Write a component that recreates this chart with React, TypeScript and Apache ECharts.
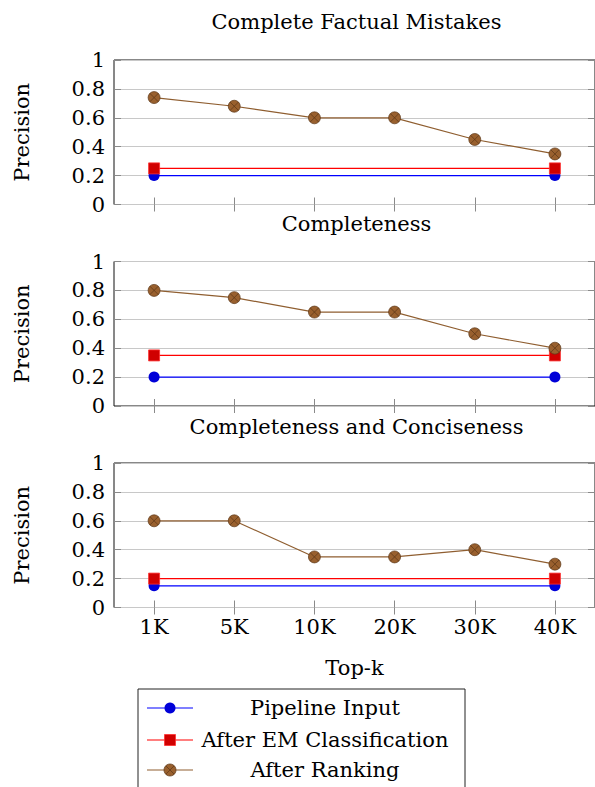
import React, { useEffect, useRef } from "react";
import * as echarts from "echarts";

const categories = ["1K", "5K", "10K", "20K", "30K", "40K"];
const panelTitles = ["Complete Factual Mistakes", "Completeness", "Completeness and Conciseness"];
const seriesNames = ["Pipeline Input", "After EM Classification", "After Ranking"];
const pipelineInput = [
  [0.2, null, null, null, null, 0.2],
  [0.2, null, null, null, null, 0.2],
  [0.15, null, null, null, null, 0.15],
];
const afterEM = [
  [0.25, null, null, null, null, 0.25],
  [0.35, null, null, null, null, 0.35],
  [0.2, null, null, null, null, 0.2],
];
const afterRanking = [
  [0.74, 0.68, 0.6, 0.6, 0.45, 0.35],
  [0.8, 0.75, 0.65, 0.65, 0.5, 0.4],
  [0.6, 0.6, 0.35, 0.35, 0.4, 0.3],
];
const yTicks = [0, 0.2, 0.4, 0.6, 0.8, 1];
const xAxisName = "Top-k";
const yAxisName = "Precision";

const FONT = "DejaVu Serif";
const FS = 21;
const BLUE_LINE = "#0000ff";
const BLUE_MARK = "#0000d8";
const RED_LINE = "#ff0000";
const RED_MARK = "#d00000";
const BROWN_LINE = "#8f5e30";
const BROWN_MARK = "#99602e";
const BROWN_EDGE = "#5a3515";
const BROWN_SYMBOL =
  "path://M0,-10 A10,10 0 1,1 0,10 A10,10 0 1,1 0,-10 Z M-7.07,-7.07 L7.07,7.07 M7.07,-7.07 L-7.07,7.07";

const gridTops = [60, 261.5, 463];
const titleYs = [22, 224, 427];
const gridH = 144.5;
const gridLeft = 114;
const gridW = 485;

export default function App() {
  const ref = useRef<HTMLDivElement>(null);
  useEffect(() => {
    if (!ref.current) return;
    const chart = echarts.init(ref.current, null, { renderer: "svg" });
    const grids: any[] = [];
    const xAxes: any[] = [];
    const yAxes: any[] = [];
    const series: any[] = [];
    const graphics: any[] = [];
    const tickStyle = { color: "#8a8a8a", width: 1 };
    for (let i = 0; i < 3; i++) {
      grids.push({
        left: gridLeft,
        top: gridTops[i],
        width: gridW,
        height: gridH,
        show: true,
        borderColor: "#111",
        borderWidth: 1,
        backgroundColor: "transparent",
      });
      const isLast = i === 2;
      xAxes.push({
        type: "category",
        gridIndex: i,
        data: categories,
        position: "bottom",
        boundaryGap: true,
        axisLine: { show: false },
        axisTick: { show: true, inside: true, alignWithLabel: true, length: 7, lineStyle: tickStyle },
        axisLabel: { show: isLast, color: "#000", fontFamily: FONT, fontSize: FS, margin: 9 },
        splitLine: { show: false },
        name: isLast ? xAxisName : "",
        nameLocation: "middle",
        nameGap: 50,
        nameTextStyle: { color: "#000", fontFamily: FONT, fontSize: FS },
      });
      xAxes.push({
        type: "category",
        gridIndex: i,
        data: categories,
        position: "top",
        boundaryGap: true,
        axisLine: { show: false },
        axisTick: { show: true, inside: true, alignWithLabel: true, length: 7, lineStyle: tickStyle },
        axisLabel: { show: false },
        splitLine: { show: false },
      });
      yAxes.push({
        type: "value",
        gridIndex: i,
        min: yTicks[0],
        max: yTicks[yTicks.length - 1],
        interval: 0.2,
        position: "left",
        axisLine: { show: false },
        axisTick: { show: true, inside: true, length: 7, lineStyle: tickStyle },
        axisLabel: { color: "#000", fontFamily: FONT, fontSize: FS, margin: 9 },
        splitLine: { show: true, lineStyle: { color: "#c8c8c8", width: 1 } },
        name: yAxisName,
        nameLocation: "middle",
        nameRotate: 90,
        nameGap: 82,
        nameTextStyle: { color: "#000", fontFamily: FONT, fontSize: FS },
      });
      yAxes.push({
        type: "value",
        gridIndex: i,
        min: yTicks[0],
        max: yTicks[yTicks.length - 1],
        interval: 0.2,
        position: "right",
        axisLine: { show: false },
        axisTick: { show: true, inside: true, length: 7, lineStyle: tickStyle },
        axisLabel: { show: false },
        splitLine: { show: false },
      });
      series.push({
        name: seriesNames[0],
        type: "line",
        xAxisIndex: 2 * i,
        yAxisIndex: 2 * i,
        data: pipelineInput[i],
        connectNulls: true,
        symbol: "circle",
        symbolSize: 11,
        itemStyle: { color: BLUE_MARK, borderColor: BLUE_MARK, borderWidth: 0 },
        lineStyle: { color: BLUE_LINE, width: 1.2 },
        z: 2,
      });
      series.push({
        name: seriesNames[1],
        type: "line",
        xAxisIndex: 2 * i,
        yAxisIndex: 2 * i,
        data: afterEM[i],
        connectNulls: true,
        symbol: "rect",
        symbolSize: 11,
        itemStyle: { color: RED_MARK, borderColor: "#ff3030", borderWidth: 0.8 },
        lineStyle: { color: RED_LINE, width: 1.2 },
        z: 3,
      });
      series.push({
        name: seriesNames[2],
        type: "line",
        xAxisIndex: 2 * i,
        yAxisIndex: 2 * i,
        data: afterRanking[i],
        symbol: BROWN_SYMBOL,
        symbolSize: 12,
        itemStyle: { color: BROWN_MARK, borderColor: BROWN_EDGE, borderWidth: 0.7 },
        lineStyle: { color: BROWN_LINE, width: 1.2 },
        z: 4,
      });
      graphics.push({
        type: "text",
        x: gridLeft + gridW / 2,
        y: titleYs[i],
        style: {
          text: panelTitles[i],
          font: `${FS}px "${FONT}"`,
          fill: "#000",
          textAlign: "center",
          textVerticalAlign: "middle",
        },
      });
    }
    // legend
    const lx = 138, ly = 689, lw = 327;
    graphics.push({
      type: "rect",
      shape: { x: lx, y: ly, width: lw, height: 120 },
      style: { fill: "#fff", stroke: "#222", lineWidth: 1 },
      z: 10,
    });
    const rows = [708, 740, 770];
    const lineCols = [BLUE_LINE, RED_LINE, BROWN_LINE];
    rows.forEach((ry, k) => {
      graphics.push({
        type: "line",
        shape: { x1: 147, y1: ry, x2: 193, y2: ry },
        style: { stroke: lineCols[k], lineWidth: 1.2 },
        z: 11,
      });
      if (k === 0) {
        graphics.push({ type: "circle", shape: { cx: 170, cy: ry, r: 5.5 }, style: { fill: BLUE_MARK }, z: 12 });
      } else if (k === 1) {
        graphics.push({
          type: "rect",
          shape: { x: 164.5, y: ry - 5.5, width: 11, height: 11 },
          style: { fill: RED_MARK, stroke: "#ff3030", lineWidth: 0.8 },
          z: 12,
        });
      } else {
        graphics.push({
          type: "circle",
          shape: { cx: 170, cy: ry, r: 6 },
          style: { fill: BROWN_MARK, stroke: BROWN_EDGE, lineWidth: 0.7 },
          z: 12,
        });
        graphics.push({ type: "line", shape: { x1: 165.8, y1: ry - 4.2, x2: 174.2, y2: ry + 4.2 }, style: { stroke: BROWN_EDGE, lineWidth: 0.7 }, z: 13 });
        graphics.push({ type: "line", shape: { x1: 174.2, y1: ry - 4.2, x2: 165.8, y2: ry + 4.2 }, style: { stroke: BROWN_EDGE, lineWidth: 0.7 }, z: 13 });
      }
      graphics.push({
        type: "text",
        x: 325,
        y: ry,
        style: {
          text: seriesNames[k],
          font: `${FS}px "${FONT}"`,
          fill: "#000",
          textAlign: "center",
          textVerticalAlign: "middle",
        },
        z: 12,
      });
    });

    chart.setOption({
      animation: false,
      backgroundColor: "#fff",
      grid: grids,
      xAxis: xAxes,
      yAxis: yAxes,
      series,
      graphic: graphics,
    });
    return () => chart.dispose();
  }, []);
  return (
    <div
      ref={ref}
      style={{ position: "absolute", left: 0, top: 0, width: 595, height: 787 }}
    />
  );
}
